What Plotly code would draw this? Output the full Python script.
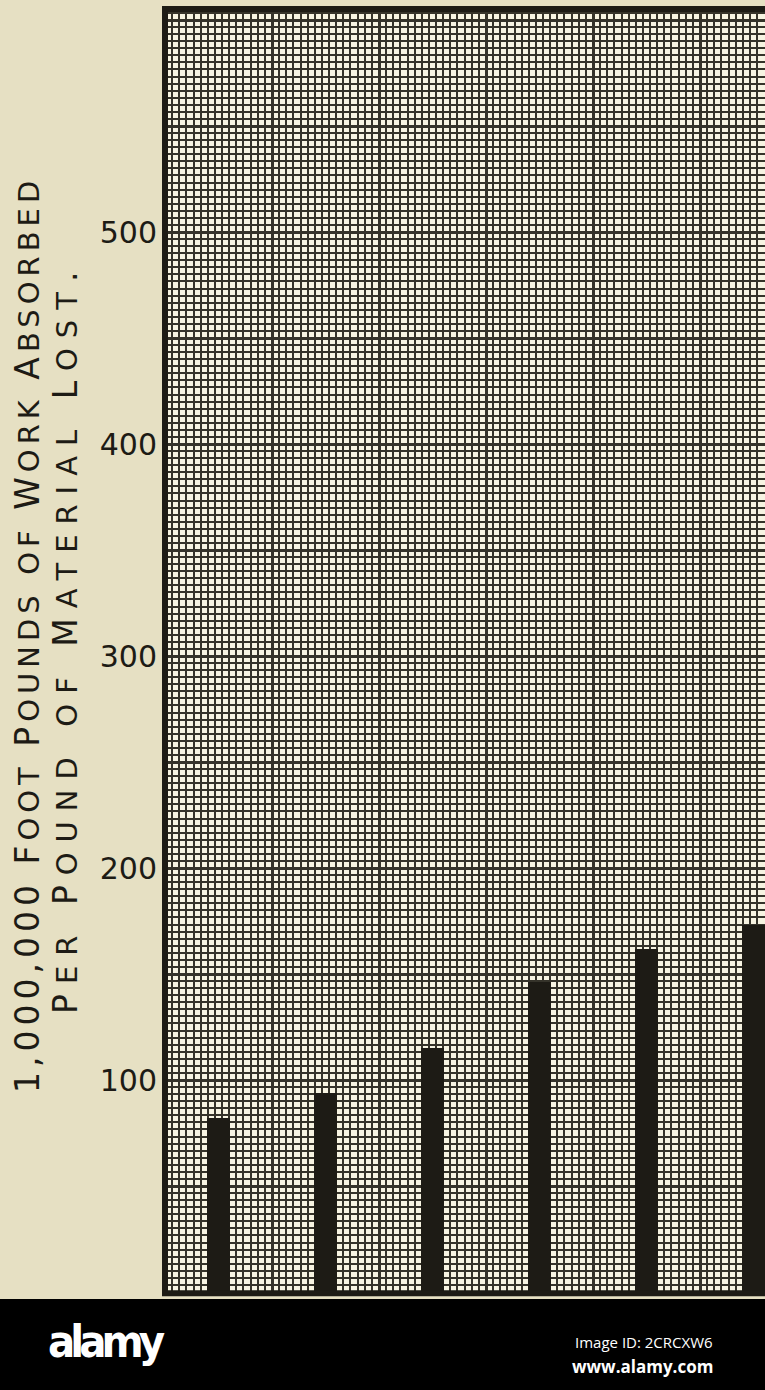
import plotly.graph_objects as go

# ---- data ----
bar_slots = [1, 2, 3, 4, 5, 6]                 # bar order, left to right
work_absorbed = [82, 94, 115, 146, 162, 173]   # 1,000,000 ft-lb per lb of material lost
y_tick_vals = [100, 200, 300, 400, 500]
y_tick_text = ["100", "200", "300", "400", "500"]

SC = "<span style='font-size:29px'>{}</span>"   # small-caps helper
title_line1 = ("1,000,000 F" + SC.format("OOT") + " P" + SC.format("OUNDS") + " "
               + SC.format("OF") + " W" + SC.format("ORK") + " A" + SC.format("BSORBED"))
title_line2 = ("P" + SC.format("ER") + " P" + SC.format("OUND") + " " + SC.format("OF")
               + " M" + SC.format("ATERIAL") + " L" + SC.format("OST") + ".")

# ---- geometry / style ----
W, H = 765, 1390
ML, MR, MT, MB = 165, 0, 9, 98
PW, PH = W - ML - MR, H - MT - MB
PX_PER_SLOT = 107.0
PX_PER_UNIT = 2.12
x_max = PW / PX_PER_SLOT
y_max = PH / PX_PER_UNIT
FINE_X = 1 / 15          # graph-paper subdivisions
FINE_Y = 50 / 15
HEAVY_X = 1
HEAVY_Y = 50

paper_bg = "#e6e0c3"
plot_bg = "#f7f4e2"
ink = "#1d1b15"
grid_ink = "#35332a"

def px_x(p):
    return (p - ML) / PW

def px_y(p):
    return (H - MB - p) / PH

fig = go.Figure()
fig.add_trace(go.Bar(
    x=[s - 0.5 for s in bar_slots],
    y=work_absorbed,
    width=0.21,
    marker=dict(color=ink, line=dict(width=0)),
    showlegend=False,
    hoverinfo="y",
))
# invisible traces activating the overlay axes that carry the graph-paper grid
fig.add_trace(go.Scatter(x=[None], y=[None], xaxis="x2", yaxis="y2",
                         showlegend=False, hoverinfo="skip"))
fig.add_trace(go.Scatter(x=[None], y=[None], xaxis="x3", yaxis="y3",
                         showlegend=False, hoverinfo="skip"))

no_lbl = dict(showticklabels=False, ticks="", zeroline=False, showline=False)

fig.update_layout(
    width=W, height=H,
    margin=dict(l=ML, r=MR, t=MT, b=MB),
    paper_bgcolor=paper_bg,
    plot_bgcolor=plot_bg,
    bargap=0,
    xaxis=dict(range=[0, x_max], showgrid=False, **no_lbl),
    yaxis=dict(
        range=[0, y_max],
        tickvals=y_tick_vals, ticktext=y_tick_text,
        ticks="", ticklabelstandoff=7, showgrid=False,
        tickfont=dict(family="DejaVu Sans", size=30, color=ink),
        zeroline=False, showline=False,
    ),
    # fine grid
    xaxis2=dict(overlaying="x", range=[0, x_max], tick0=0, dtick=FINE_X,
                showgrid=True, gridcolor=grid_ink, gridwidth=2.3, **no_lbl),
    yaxis2=dict(overlaying="y", range=[0, y_max], tick0=0, dtick=FINE_Y,
                showgrid=True, gridcolor=grid_ink, gridwidth=2.3, **no_lbl),
    # heavy grid
    xaxis3=dict(overlaying="x", range=[0, x_max], tick0=0, dtick=HEAVY_X,
                showgrid=True, gridcolor=grid_ink, gridwidth=3, **no_lbl),
    yaxis3=dict(overlaying="y", range=[0, y_max], tick0=0, dtick=HEAVY_Y,
                showgrid=True, gridcolor=grid_ink, gridwidth=3, **no_lbl),
)

# frame
fig.add_shape(type="rect", xref="paper", yref="paper",
              x0=0, x1=1.02, y0=-0.001, y1=1.0,
              line=dict(color=ink, width=6), layer="above")

# axis title lines (rotated)
fig.add_annotation(text="<span style='letter-spacing:5px'>" + title_line1 + "</span>",
                   xref="paper", yref="paper",
                   x=px_x(27), y=px_y(635), textangle=-90, showarrow=False,
                   font=dict(family="DejaVu Sans", size=33, color=ink),
                   xanchor="center", yanchor="middle")
fig.add_annotation(text="<span style='letter-spacing:10px'>" + title_line2 + "</span>",
                   xref="paper", yref="paper",
                   x=px_x(65), y=px_y(638), textangle=-90, showarrow=False,
                   font=dict(family="DejaVu Sans", size=33, color=ink),
                   xanchor="center", yanchor="middle")

# bottom stock-photo strip
fig.add_shape(type="rect", xref="paper", yref="paper",
              x0=px_x(-2), x1=px_x(W + 2), y0=px_y(1299), y1=px_y(H + 2),
              fillcolor="#000000", line=dict(width=0), layer="above")
fig.add_annotation(text="<span style='letter-spacing:-5px'><b>alamy</b></span>",
                   xref="paper", yref="paper",
                   x=px_x(46), y=px_y(1342), xanchor="left", yanchor="middle",
                   showarrow=False,
                   font=dict(family="DejaVu Sans Condensed, Liberation Sans Narrow, Liberation Sans",
                             size=45, color="#ffffff"))
fig.add_annotation(text="Image ID: 2CRCXW6", xref="paper", yref="paper",
                   x=px_x(715), y=px_y(1342), xanchor="right", yanchor="middle",
                   showarrow=False,
                   font=dict(family="Open Sans, DejaVu Sans", size=15, color="#ffffff"))
fig.add_annotation(text="<b>www.alamy.com</b>", xref="paper", yref="paper",
                   x=px_x(715), y=px_y(1366), xanchor="right", yanchor="middle",
                   showarrow=False,
                   font=dict(family="Open Sans, DejaVu Sans", size=17, color="#ffffff"))

fig.write_html("out.html",
               config={"displayModeBar": False},
               post_script="document.body.style.margin='0px';"
                           "document.body.style.overflow='hidden';")
